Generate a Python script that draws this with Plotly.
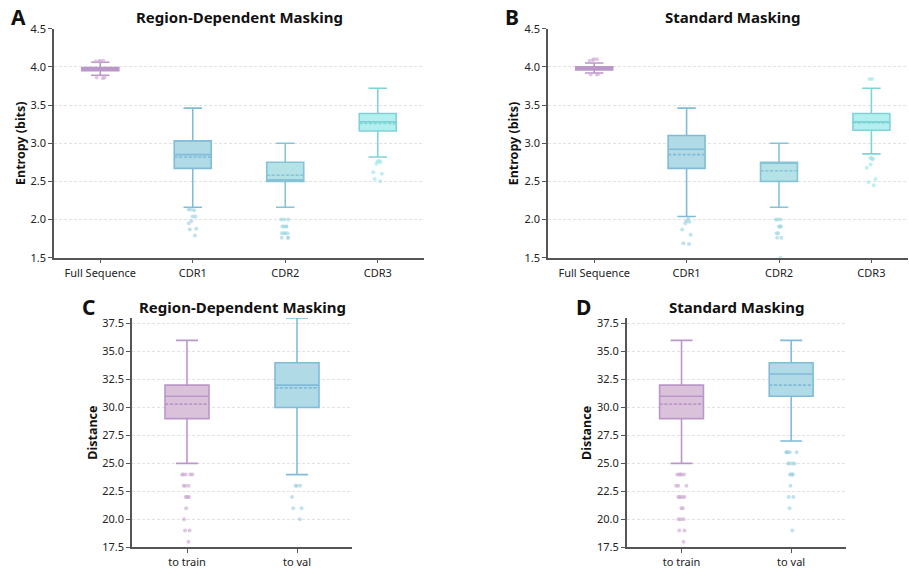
import plotly.graph_objects as go

# ---- Entropy per region (bits) ----
regions = ["Full Sequence", "CDR1", "CDR2", "CDR3"]

# summary stats: q1, median, q3, mean, lower whisker, upper whisker
rd_q1 = [3.95, 2.67, 2.50, 3.16]
rd_median = [3.97, 2.85, 2.52, 3.28]
rd_q3 = [3.99, 3.03, 2.75, 3.39]
rd_mean = [3.97, 2.82, 2.58, 3.26]
rd_low = [3.89, 2.16, 2.16, 2.82]
rd_high = [4.06, 3.46, 3.00, 3.72]
rd_outliers = [
    [4.07, 4.08, 4.08, 4.07, 3.86, 3.85, 3.86],
    [2.13, 2.13, 2.12, 2.04, 2.04, 1.98, 1.95, 1.88, 1.87, 1.79],
    [2.00, 2.00, 2.00, 1.91, 1.91, 1.91, 1.91, 1.82, 1.82, 1.82, 1.82, 1.76, 1.76, 1.76],
    [2.77, 2.76, 2.75, 2.73, 2.62, 2.60, 2.53, 2.50],
]

std_q1 = [3.96, 2.67, 2.50, 3.17]
std_median = [3.98, 2.92, 2.75, 3.28]
std_q3 = [4.00, 3.10, 2.75, 3.39]
std_mean = [3.98, 2.85, 2.64, 3.27]
std_low = [3.92, 2.04, 2.16, 2.86]
std_high = [4.05, 3.46, 3.00, 3.72]
std_outliers = [
    [4.10, 4.09, 4.08, 4.10, 3.90, 3.91, 3.90],
    [2.01, 1.98, 1.97, 1.95, 1.87, 1.80, 1.69, 1.68],
    [2.00, 2.00, 2.00, 1.91, 1.91, 1.91, 1.82, 1.82, 1.76, 1.76, 1.50],
    [3.84, 3.84, 2.81, 2.80, 2.80, 2.79, 2.72, 2.68, 2.53, 2.49, 2.45],
]

# ---- Distance to train / validation sets ----
splits = ["to train", "to val"]

rd_dist_q1 = [29.0, 30.0]
rd_dist_median = [31.0, 32.0]
rd_dist_q3 = [32.0, 34.0]
rd_dist_mean = [30.3, 31.75]
rd_dist_low = [25.0, 24.0]
rd_dist_high = [36.0, 38.0]
rd_dist_outliers = [
    [24, 24, 24, 24, 24, 23, 23, 23, 22, 22, 22, 22, 21, 20, 19, 19, 18],
    [23, 23, 23, 22, 21, 21, 20],
]

std_dist_q1 = [29.0, 31.0]
std_dist_median = [31.0, 33.0]
std_dist_q3 = [32.0, 34.0]
std_dist_mean = [30.3, 32.0]
std_dist_low = [25.0, 27.0]
std_dist_high = [36.0, 36.0]
std_dist_outliers = [
    [24, 24, 24, 24, 24, 23, 23, 23, 22, 22, 22, 22, 22, 21, 21, 20, 20, 20, 19, 19, 18],
    [26, 26, 26, 26, 26, 25, 25, 25, 25, 24, 24, 24, 24, 23, 22, 22, 21, 19],
]

entropy_ticks = [1.5, 2.0, 2.5, 3.0, 3.5, 4.0, 4.5]
distance_ticks = [17.5, 20.0, 22.5, 25.0, 27.5, 30.0, 32.5, 35.0, 37.5]

# colours: fill, edge, outlier dots
region_fill = ["rgba(216,191,216,0.95)", "rgba(173,216,230,0.95)",
               "rgba(176,224,230,0.95)", "rgba(175,238,238,0.95)"]
region_line = ["#bb97c9", "#80bbd8", "#86c3d6", "#7fd3d6"]
region_dot = ["rgba(205,170,210,0.65)", "rgba(160,210,228,0.65)",
              "rgba(160,215,225,0.65)", "rgba(160,230,232,0.65)"]
split_fill = [region_fill[0], region_fill[1]]
split_line = [region_line[0], region_line[1]]
split_dot = [region_dot[0], region_dot[1]]

FONT = "Noto Sans"
W, H = 909, 568

fig = go.Figure()


def add_panel(xa, ya, cats, q1, med, q3, mean, low, high, outs, fills, lines, dots):
    for i, c in enumerate(cats):
        fig.add_trace(go.Box(
            x=[c], q1=[q1[i]], median=[med[i]], q3=[q3[i]], mean=[mean[i]],
            lowerfence=[low[i]], upperfence=[high[i]],
            boxmean=True, boxpoints=False, width=0.4, whiskerwidth=0.5,
            fillcolor=fills[i], line=dict(color=lines[i], width=1.6),
            xaxis=xa, yaxis=ya, showlegend=False, hoverinfo="skip",
        ))
        fig.add_trace(go.Box(
            x=[c] * len(outs[i]), y=outs[i],
            boxpoints="all", jitter=0.3, pointpos=0, width=0.4,
            fillcolor="rgba(0,0,0,0)", line=dict(color="rgba(0,0,0,0)", width=0),
            marker=dict(color=dots[i], size=4),
            xaxis=xa, yaxis=ya, showlegend=False, hoverinfo="skip",
        ))


add_panel("x", "y", regions, rd_q1, rd_median, rd_q3, rd_mean, rd_low, rd_high,
          rd_outliers, region_fill, region_line, region_dot)
add_panel("x2", "y2", regions, std_q1, std_median, std_q3, std_mean, std_low, std_high,
          std_outliers, region_fill, region_line, region_dot)
add_panel("x3", "y3", splits, rd_dist_q1, rd_dist_median, rd_dist_q3, rd_dist_mean,
          rd_dist_low, rd_dist_high, rd_dist_outliers, split_fill, split_line, split_dot)
add_panel("x4", "y4", splits, std_dist_q1, std_dist_median, std_dist_q3, std_dist_mean,
          std_dist_low, std_dist_high, std_dist_outliers, split_fill, split_line, split_dot)


def px_x(v):
    return v / W


def px_y(v):
    return 1 - v / H


axis_color = "#555555"
tick_font = dict(family=FONT, size=11, color="#222222")


def xaxis(dom, anchor, rng):
    return dict(domain=dom, anchor=anchor, range=rng, type="category",
                automargin=False,
                showline=True, linecolor=axis_color, linewidth=1.5,
                ticks="outside", ticklen=4, tickcolor=axis_color, tickwidth=1,
                showgrid=False, zeroline=False, tickfont=tick_font, fixedrange=True)


def yaxis(dom, anchor, rng, ticks):
    return dict(domain=dom, anchor=anchor, range=rng, automargin=False,
                tickvals=ticks, ticktext=[f"{t:.1f}" for t in ticks],
                showline=True, linecolor=axis_color, linewidth=1.5,
                ticks="outside", ticklen=4, tickcolor=axis_color, tickwidth=1,
                showgrid=True, gridcolor="#e2e2e2", gridwidth=1, griddash="3px,2px",
                zeroline=False, tickfont=tick_font, fixedrange=True)


top_y = [px_y(257.7), px_y(28.7)]
bot_y = [px_y(547.3), px_y(318.0)]

fig.update_layout(
    width=W, height=H,
    margin=dict(l=0, r=0, t=0, b=0, autoexpand=False),
    paper_bgcolor="white", plot_bgcolor="white",
    boxmode="overlay",
    font=dict(family=FONT, color="#222222"),
    xaxis=xaxis([px_x(54), px_x(424)], "y", [-0.5, 3.5]),
    yaxis=yaxis(top_y, "x", [1.5, 4.5], entropy_ticks),
    xaxis2=xaxis([px_x(548), px_x(908)], "y2", [-0.5, 3.396]),
    yaxis2=yaxis(top_y, "x2", [1.5, 4.5], entropy_ticks),
    xaxis3=xaxis([px_x(132), px_x(352)], "y3", [-0.5, 1.5]),
    yaxis3=yaxis(bot_y, "x3", [17.5, 38.0], distance_ticks),
    xaxis4=xaxis([px_x(626.7), px_x(846)], "y4", [-0.5, 1.5]),
    yaxis4=yaxis(bot_y, "x4", [17.5, 38.0], distance_ticks),
)

annotations = []


def text(x, y, s, size, angle=0):
    annotations.append(dict(
        x=px_x(x), y=px_y(y), xref="paper", yref="paper", text=s,
        showarrow=False, textangle=angle, xanchor="center", yanchor="middle",
        font=dict(family=FONT, size=size, color="#111111"),
    ))


# panel titles
text(239, 17, "<b>Region-Dependent Masking</b>", 15)
text(732.5, 17, "<b>Standard Masking</b>", 15)
text(242.5, 306.5, "<b>Region-Dependent Masking</b>", 15)
text(736, 306.5, "<b>Standard Masking</b>", 15)
# panel letters
text(18.5, 17, "<b>A</b>", 21)
text(512, 17, "<b>B</b>", 21)
text(88.5, 306.5, "<b>C</b>", 21)
text(583.7, 306.5, "<b>D</b>", 21)
# y-axis titles
text(20, 143, "<b>Entropy (bits)</b>", 12.5, -90)
text(513.3, 143, "<b>Entropy (bits)</b>", 12.5, -90)
text(91.7, 433, "<b>Distance</b>", 12.5, -90)
text(586, 433, "<b>Distance</b>", 12.5, -90)

fig.update_layout(annotations=annotations)

fig.write_html("out.html")
